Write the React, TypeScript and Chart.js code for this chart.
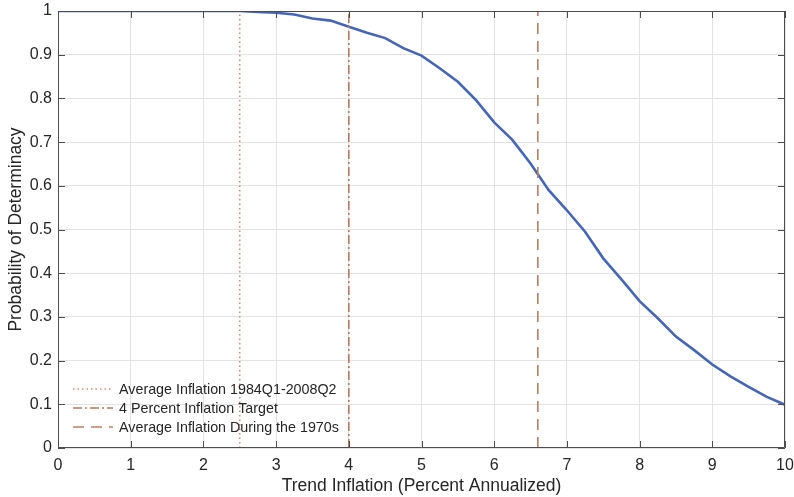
import React, { useEffect, useRef } from "react";
import { Chart, registerables } from "chart.js";

Chart.register(...registerables);

const trendInflation = [0, 0.25, 0.5, 0.75, 1, 1.25, 1.5, 1.75, 2, 2.25, 2.5, 2.75, 3, 3.25, 3.5, 3.75, 4, 4.25, 4.5, 4.75, 5, 5.25, 5.5, 5.75, 6, 6.25, 6.5, 6.75, 7, 7.25, 7.5, 7.75, 8, 8.25, 8.5, 8.75, 9, 9.25, 9.5, 9.75, 10];
const probDeterminacy = [1, 1, 1, 1, 1, 1, 1, 1, 1, 1, 1, 0.998, 0.996, 0.992, 0.983, 0.978, 0.964, 0.95, 0.938, 0.915, 0.898, 0.869, 0.838, 0.796, 0.745, 0.705, 0.651, 0.59, 0.544, 0.495, 0.434, 0.386, 0.336, 0.297, 0.255, 0.224, 0.191, 0.164, 0.14, 0.117, 0.099];

const refLabels = ["Average Inflation 1984Q1-2008Q2", "4 Percent Inflation Target", "Average Inflation During the 1970s"];
const refValues = [2.5, 4, 6.6];
const refDashes = [[1.5, 3], [9, 3, 2, 3], [11, 7]];
const refColors = ["#d98a6e", "#b8785c", "#bd7d62"];

const xTicks = [0, 1, 2, 3, 4, 5, 6, 7, 8, 9, 10];
const yTicks = [0, 0.1, 0.2, 0.3, 0.4, 0.5, 0.6, 0.7, 0.8, 0.9, 1];

const FONT = "'Liberation Sans', Arial, Helvetica, sans-serif";

const boxPlugin = {
  id: "boxTicks",
  afterDatasetsDraw(chart: any) {
    const { ctx, chartArea: a, scales } = chart;
    ctx.save();
    ctx.strokeStyle = "#4d4d4d";
    ctx.lineWidth = 1;
    ctx.beginPath();
    ctx.rect(a.left + 0.5, a.top + 0.5, a.right - a.left - 1, a.bottom - a.top - 1);
    ctx.stroke();
    const tl = 7;
    ctx.beginPath();
    xTicks.forEach((v) => {
      const x = Math.round(scales.x.getPixelForValue(v)) + 0.5;
      ctx.moveTo(x, a.bottom);
      ctx.lineTo(x, a.bottom - tl);
      ctx.moveTo(x, a.top);
      ctx.lineTo(x, a.top + tl);
    });
    yTicks.forEach((v) => {
      const y = Math.round(scales.y.getPixelForValue(v)) + 0.5;
      ctx.moveTo(a.left, y);
      ctx.lineTo(a.left + tl, y);
      ctx.moveTo(a.right, y);
      ctx.lineTo(a.right - tl, y);
    });
    ctx.stroke();

    // legend
    const lx0 = 73, lx1 = 113, tx = 119;
    const rows = [389, 408, 427];
    ctx.font = `14.3px ${FONT}`;
    ctx.textBaseline = "middle";
    ctx.textAlign = "left";
    refLabels.forEach((lab, i) => {
      ctx.strokeStyle = refColors[i];
      ctx.lineWidth = 1.6;
      ctx.setLineDash(refDashes[i]);
      ctx.beginPath();
      ctx.moveTo(lx0, rows[i]);
      ctx.lineTo(lx1, rows[i]);
      ctx.stroke();
      ctx.setLineDash([]);
      ctx.fillStyle = "#262626";
      ctx.fillText(lab, tx, rows[i] + 1);
    });
    ctx.restore();
  },
};

export default function App() {
  const ref = useRef<HTMLCanvasElement>(null);
  useEffect(() => {
    document.body.style.margin = "0";
    const refSets = refValues.map((v, i) => ({
      label: refLabels[i],
      data: [{ x: v, y: 0 }, { x: v, y: 1 }],
      borderColor: refColors[i],
      borderWidth: 1.6,
      borderDash: refDashes[i],
      pointRadius: 0,
      fill: false,
    }));
    const chart = new Chart(ref.current!, {
      type: "line",
      data: {
        datasets: [
          ...refSets,
          {
            label: "Probability",
            data: trendInflation.map((x, i) => ({ x, y: probDeterminacy[i] })),
            borderColor: "#4465b8",
            borderWidth: 2.6,
            pointRadius: 0,
            tension: 0,
            fill: false,
          },
        ],
      },
      options: {
        animation: false,
        responsive: false,
        maintainAspectRatio: false,
        layout: { padding: { left: 0, top: 11, right: 9, bottom: 0 } },
        plugins: { legend: { display: false }, tooltip: { enabled: false } },
        scales: {
          x: {
            type: "linear",
            min: 0,
            max: 10,
            afterBuildTicks: (s: any) => { s.ticks = xTicks.map((v) => ({ value: v })); },
            afterFit: (s: any) => { s.height = 49; s.paddingLeft = 0; s.paddingRight = 0; },
            grid: { color: "#e3e3e3", lineWidth: 1, drawTicks: false },
            border: { display: false },
            ticks: { color: "#262626", font: { family: FONT, size: 16 }, padding: 8, maxRotation: 0 },
            title: { display: true, text: "Trend Inflation (Percent Annualized)", color: "#262626", font: { family: FONT, size: 17.5 }, padding: { top: 4, bottom: 0 } },
          },
          y: {
            type: "linear",
            min: 0,
            max: 1,
            afterBuildTicks: (s: any) => { s.ticks = yTicks.map((v) => ({ value: v })); },
            afterFit: (s: any) => { s.width = 58; s.paddingTop = 0; s.paddingBottom = 0; },
            grid: { color: "#e3e3e3", lineWidth: 1, drawTicks: false },
            border: { display: false },
            ticks: { color: "#262626", font: { family: FONT, size: 16 }, padding: 6, callback: (v: any) => String(Math.round(v * 10) / 10) },
            title: { display: true, text: "Probability of Determinacy", color: "#262626", font: { family: FONT, size: 17.5 }, padding: { top: 6, bottom: 2 } },
          },
        },
      },
      plugins: [boxPlugin],
    });
    return () => chart.destroy();
  }, []);
  return (
    <div style={{ position: "absolute", left: 0, top: 0, width: 794, height: 497 }}>
      <canvas ref={ref} width={794} height={497} style={{ width: 794, height: 497 }} />
    </div>
  );
}
